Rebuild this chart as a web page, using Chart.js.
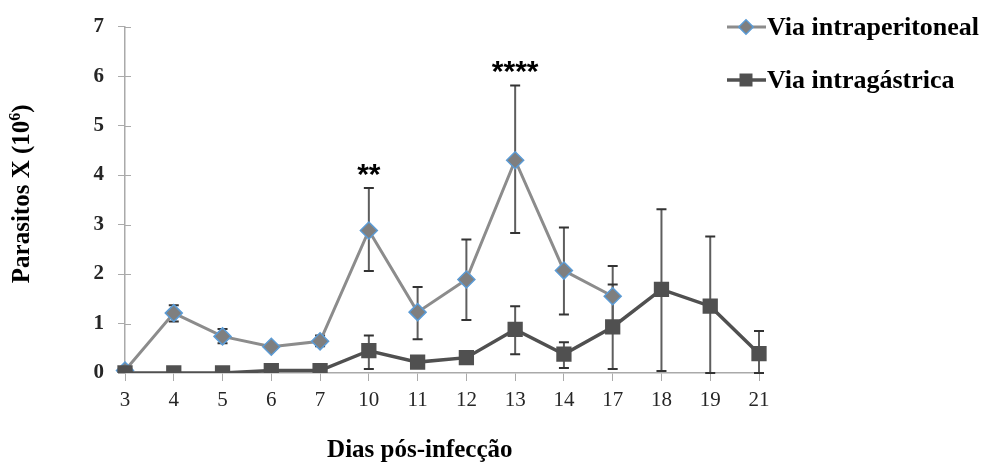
<!DOCTYPE html>
<html>
<head>
<meta charset="utf-8">
<script src="https://cdn.jsdelivr.net/npm/chart.js@4"></script>
<style>
  html, body { margin: 0; padding: 0; background: #fff; }
  #wrap { width: 990px; height: 467px; }
</style>
</head>
<body>
<div id="wrap"><canvas id="c" width="990" height="467"></canvas></div>
<script>
// Days post-infection
const days = ['3', '4', '5', '6', '7', '10', '11', '12', '13', '14', '17', '18', '19', '21'];

// Intraperitoneal route: mean and error bar bounds (parasites x 10^6)
const intraperitoneal = [0.05, 1.21, 0.74, 0.53, 0.64, 2.88, 1.23, 1.89, 4.30, 2.07, 1.55, null, null, null];
const ipLow  = [0.05, 1.04, 0.60, 0.48, 0.54, 2.06, 0.68, 1.07, 2.83, 1.18, 0.95, null, null, null];
const ipHigh = [0.05, 1.37, 0.89, 0.58, 0.76, 3.74, 1.74, 2.70, 5.81, 2.94, 2.16, null, null, null];

// Intragastric route: mean and error bar bounds
const intragastrica = [0.0, 0.0, 0.0, 0.05, 0.05, 0.45, 0.22, 0.31, 0.88, 0.38, 0.93, 1.69, 1.35, 0.39];
const igLow  = [0.0, 0.0, 0.0, 0.03, 0.03, 0.08, 0.15, 0.25, 0.38, 0.10, 0.08, 0.04, 0.0, 0.0];
const igHigh = [0.0, 0.0, 0.0, 0.07, 0.07, 0.76, 0.30, 0.37, 1.35, 0.62, 1.79, 3.31, 2.76, 0.85];

// Significance marks placed above the intraperitoneal error bars
const significance = [
  { day: '10', text: '**' },
  { day: '13', text: '****' }
];

const yTicks = [0, 1, 2, 3, 4, 5, 6, 7];

const xTitle = 'Dias pós-infecção';
const yTitle = ['Parasitos X (10', '6', ')'];

const serif = '"Liberation Serif", "Times New Roman", serif';

// Vertical error bars with caps, drawn underneath the lines
const errorBars = {
  id: 'errorBars',
  beforeDatasetsDraw(chart) {
    const { ctx, scales: { x, y } } = chart;
    ctx.save();
    chart.data.datasets.forEach(ds => {
      if (!ds.errLow) return;
      ds.data.forEach((v, i) => {
        if (v === null) return;
        const px = x.getPixelForValue(i);
        const lo = y.getPixelForValue(ds.errLow[i]);
        const hi = y.getPixelForValue(ds.errHigh[i]);
        if (Math.abs(lo - hi) < 1) return;
        ctx.strokeStyle = ds.errColor;
        ctx.lineWidth = 2;
        ctx.beginPath();
        ctx.moveTo(px, lo);
        ctx.lineTo(px, hi);
        ctx.stroke();
        ctx.strokeStyle = '#333';
        ctx.lineWidth = 2;
        ctx.beginPath();
        ctx.moveTo(px - 5, hi); ctx.lineTo(px + 5, hi);
        ctx.moveTo(px - 5, lo); ctx.lineTo(px + 5, lo);
        ctx.stroke();
      });
    });
    ctx.restore();
  }
};

// Short tick stubs that cross the y axis into the plot area
const innerTicks = {
  id: 'innerTicks',
  beforeDatasetsDraw(chart) {
    const { ctx, scales: { y }, chartArea } = chart;
    ctx.save();
    ctx.strokeStyle = '#aaa';
    ctx.lineWidth = 1;
    y.ticks.forEach(t => {
      const py = Math.round(y.getPixelForValue(t.value)) + 0.5;
      if (t.value === 0) return;
      ctx.beginPath();
      ctx.moveTo(chartArea.left, py);
      ctx.lineTo(chartArea.left + 6, py);
      ctx.stroke();
    });
    ctx.restore();
  }
};

// Asterisks over the significant days
const marks = {
  id: 'marks',
  afterDatasetsDraw(chart) {
    const { ctx, scales: { x, y } } = chart;
    ctx.save();
    ctx.fillStyle = '#000';
    ctx.font = 'bold 30px "Liberation Sans", Arial, sans-serif';
    ctx.textAlign = 'center';
    ctx.textBaseline = 'alphabetic';
    significance.forEach(s => {
      const i = days.indexOf(s.day);
      const px = x.getPixelForValue(i);
      const py = y.getPixelForValue(ipHigh[i]);
      ctx.fillText(s.text, px, py - 4);
    });
    ctx.restore();
  }
};

// Axis titles: x title under the ticks, y title rotated with a superscript exponent
const axisTitles = {
  id: 'axisTitles',
  afterDraw(chart) {
    const { ctx, chartArea } = chart;
    ctx.save();
    ctx.fillStyle = '#000';
    ctx.font = 'bold 25px ' + serif;
    ctx.textAlign = 'center';
    ctx.textBaseline = 'alphabetic';
    const cx = chartArea.left + (chartArea.right - chartArea.left) * 0.465;
    ctx.fillText(xTitle, cx, 457);

    const big = 'bold 25px ' + serif;
    const small = 'bold 16px ' + serif;
    ctx.font = big;
    const w0 = ctx.measureText(yTitle[0]).width;
    const w2 = ctx.measureText(yTitle[2]).width;
    ctx.font = small;
    const w1 = ctx.measureText(yTitle[1]).width;
    const total = w0 + w1 + w2;
    const cy = (chartArea.top + chartArea.bottom) / 2 - 6;
    ctx.translate(29, cy);
    ctx.rotate(-Math.PI / 2);
    ctx.textAlign = 'left';
    let px = -total / 2;
    ctx.font = big;
    ctx.fillText(yTitle[0], px, 0);
    px += w0;
    ctx.font = small;
    ctx.fillText(yTitle[1], px, -9);
    px += w1;
    ctx.font = big;
    ctx.fillText(yTitle[2], px, 0);
    ctx.restore();
  }
};

// Legend at the top right: line sample with marker, then the label
const sideLegend = {
  id: 'sideLegend',
  afterDraw(chart) {
    const { ctx } = chart;
    ctx.save();
    chart.data.datasets.forEach((ds, k) => {
      const cy = 27 + k * 53;
      ctx.strokeStyle = ds.borderColor;
      ctx.lineWidth = ds.borderWidth;
      ctx.beginPath();
      ctx.moveTo(727, cy);
      ctx.lineTo(766, cy);
      ctx.stroke();
      ctx.fillStyle = ds.pointBackgroundColor;
      ctx.strokeStyle = ds.pointBorderColor;
      ctx.lineWidth = ds.pointBorderWidth;
      Chart.helpers.drawPoint(ctx, {
        pointStyle: ds.pointStyle,
        radius: ds.pointRadius * 0.85,
        rotation: 0,
        borderWidth: ds.pointBorderWidth
      }, 746, cy);
      ctx.fillStyle = '#000';
      ctx.font = 'bold 26px ' + serif;
      ctx.textAlign = 'left';
      ctx.textBaseline = 'middle';
      ctx.fillText(ds.label, 767, cy + 1);
    });
    ctx.restore();
  }
};

new Chart(document.getElementById('c'), {
  type: 'line',
  data: {
    labels: days,
    datasets: [
      {
        label: 'Via intraperitoneal',
        data: intraperitoneal,
        errLow: ipLow,
        errHigh: ipHigh,
        errColor: '#5e5e5e',
        borderColor: '#8c8c8c',
        borderWidth: 3,
        pointStyle: 'rectRot',
        pointRadius: 8.5,
        pointHoverRadius: 8.5,
        pointBackgroundColor: '#7f7f7f',
        pointBorderColor: '#5b9bd5',
        pointBorderWidth: 1.5,
        tension: 0,
        spanGaps: false,
        order: 2
      },
      {
        label: 'Via intragástrica',
        data: intragastrica,
        errLow: igLow,
        errHigh: igHigh,
        errColor: '#5e5e5e',
        borderColor: '#505050',
        borderWidth: 3.5,
        pointStyle: 'rect',
        pointRadius: 10.8,
        pointHoverRadius: 10.8,
        pointBackgroundColor: '#505050',
        pointBorderColor: '#505050',
        pointBorderWidth: 0,
        tension: 0,
        order: 1
      }
    ]
  },
  options: {
    responsive: false,
    animation: false,
    events: [],
    layout: { padding: { left: 0, right: 231, top: 25, bottom: 0 } },
    plugins: {
      legend: { display: false },
      tooltip: { enabled: false }
    },
    scales: {
      x: {
        type: 'category',
        offset: false,
        afterFit(s) { s.height = 94; },
        grid: { drawOnChartArea: false, drawTicks: true, tickLength: 8, color: '#aaa', offset: false },
        border: { color: '#aaa', width: 1.5 },
        ticks: { color: '#262626', padding: 7, font: { family: serif, size: 21 }, maxRotation: 0, autoSkip: false }
      },
      y: {
        min: 0,
        max: 7,
        afterFit(s) { s.width = 125; },
        afterBuildTicks(s) { s.ticks = yTicks.map(v => ({ value: v })); },
        grid: { drawOnChartArea: false, drawTicks: true, tickLength: 7, color: '#aaa' },
        border: { color: '#aaa', width: 1.5 },
        ticks: { color: '#262626', padding: 14, font: { family: serif, size: 21, weight: 'bold' } }
      }
    }
  },
  plugins: [innerTicks, errorBars, marks, axisTitles, sideLegend]
});
</script>
</body>
</html>
